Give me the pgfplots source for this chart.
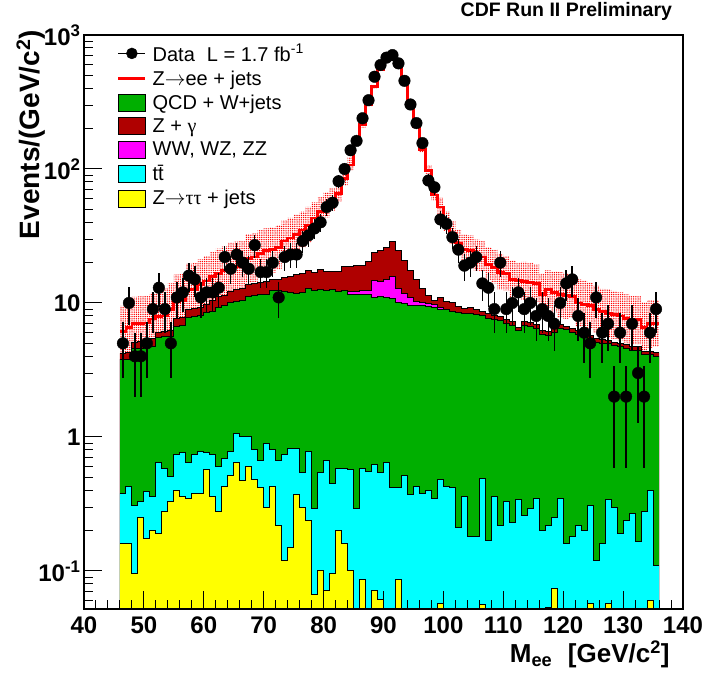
\documentclass[border=0pt]{standalone}
\usepackage{fontspec}
\setmainfont{Liberation Sans}
\newfontfamily\greek{Liberation Serif}
\usepackage{pgfplots}
\pgfplotsset{compat=1.18}
\usepackage{pgfplotstable}
\usetikzlibrary{patterns.meta}

\definecolor{qcdgreen}{RGB}{0,175,0}
\definecolor{zgdred}{RGB}{175,0,0}
\definecolor{dibmag}{RGB}{255,0,255}
\definecolor{ttcyan}{RGB}{0,255,255}
\definecolor{ztyel}{RGB}{255,255,0}

% stacked MC, cumulative tops per 1 GeV bin (left edge), last row closes the histogram
\pgfplotstableread{
x   yel   cya   grn  mag  dred tot  lo   hi
46  0.16  0.38  3.8  3.8  4.2  6.1  4.2  9.5
47  0.16  0.43  3.8  3.8  4.3  6.6  4.3  10.0
48  0.096 0.31  4.6  4.6  5.1  7.0  5.1  11.1
49  0.25  0.33  4.6  4.6  5.2  7.0  5.2  11.2
50  0.175 0.39  4.7  4.7  5.3  7.1  5.3  11.3
51  0.20  0.36  4.7  4.7  5.4  7.6  5.4  11.9
52  0.19  0.65  5.5  5.5  6.0  7.9  6.0  12.7
53  0.28  0.58  5.6  5.6  6.1  8.0  6.1  12.9
54  0.33  0.51  5.6  5.6  6.2  9.0  6.2  14.0
55  0.40  0.74  6.7  6.7  7.6  10.2 7.6  16.3
56  0.36  0.76  6.8  6.8  7.8  10.4 7.8  16.6
57  0.35  0.65  7.8  7.8  8.9  12.5 8.9  19.6
58  0.38  0.74  7.9  7.9  9.1  12.6 9.1  19.9
59  0.38  0.78  8.0  8.0  9.3  13.8 9.3  21.2
60  0.57  0.76  8.5  8.5  9.7  14.6 9.7  22.4
61  0.36  0.74  8.7  8.7  10.5 15.8 10.5 24.2
62  0.28  0.60  9.3  9.3  11.1 16.5 11.1 25.4
63  0.43  0.69  9.5  9.5  11.3 17.5 11.3 26.5
64  0.52  0.78  10.0 10.0 12.2 18.5 12.2 28.3
65  0.64  1.06  10.2 10.2 12.5 18.7 12.5 28.7
66  0.47  1.01  10.4 10.4 12.8 19.0 12.8 29.2
67  0.60  1.01  11.2 11.2 13.7 21.5 14.0 32.5
68  0.48  0.80  11.4 11.4 14.0 22.0 14.3 33.2
69  0.42  0.67  11.5 11.5 14.2 23.5 15.7 34.9
70  0.30  0.89  11.6 11.6 14.5 24.5 16.5 36.1
71  0.43  0.80  12.3 12.3 14.9 25.0 16.8 36.9
72  0.22  0.67  12.4 12.4 15.0 26.0 17.8 38.0
73  0.12  0.74  12.2 12.2 15.6 29.0 20.4 41.5
74  0.15  0.82  12.0 12.0 15.8 30.5 21.8 43.1
75  0.37  0.82  11.8 11.8 16.2 32.5 23.6 45.5
76  0.30  0.54  12.0 12.0 16.5 35   25.9 48.2
77  0.24  0.78  12.8 12.8 17.6 38   28.3 52.1
78  0.067 0.29  12.4 12.4 16.8 43   33.8 56.4
79  0.10  0.54  12.5 12.5 17.8 48   38.2 62.2
80  0.072 0.67  12.3 12.3 17.1 53   43.6 66.7
81  0.096 0.45  12.5 12.5 17.1 58   48.6 71.7
82  0.20  0.58  12.2 12.2 17.3 66   56.5 79.8
83  0.16  0.58  12.3 12.3 18.7 85   74.7 100
84  0.10  0.57  11.6 12.1 18.7 107  96.7 122
85  0.001 0.29  11.6 12.2 18.9 160  150  175
86  0.086 0.58  11.5 12.3 19.2 215  204  230
87  0.001 0.55  11.5 12.4 20.3 300  289  316
88  0.072 0.62  11.0 14.8 24.0 410  397  429
89  0.061 0.54  11.1 14.5 24.5 550  537  570
90  0.001 0.65  11.0 15.0 26.0 670  656  691
91  0.001 0.42  10.8 15.7 28.7 710  694  733
92  0.087 0.42  10.0 12.9 24.5 620  607  640
93  0.001 0.52  9.9  11.8 20.9 440  428  457
94  0.001 0.37  9.6  10.9 17.6 295  285  309
95  0.001 0.43  9.6  10.3 15.0 207  199  219
96  0.001 0.38  9.5  10.1 12.9 140  133  150
97  0.001 0.40  9.4  9.9  11.3 98   91.8 107
98  0.001 0.35  9.2  9.7  10.5 64   58.2 72.4
99  0.057 0.48  9.0  9.3  11.0 52   46.0 60.8
100 0.001 0.43  8.9  8.9  10.2 40   34.4 48.2
101 0.001 0.42  8.7  8.7  10.0 33   27.5 41.0
102 0.001 0.21  8.5  8.5  9.4  28   22.8 35.5
103 0.001 0.36  8.3  8.3  9.1  25   20.0 32.3
104 0.001 0.18  8.3  8.3  9.2  24.5 19.4 31.9
105 0.001 0.18  8.2  8.2  9.0  22.5 17.5 29.7
106 0.056 0.49  8.0  8.0  8.7  22   17.2 29.0
107 0.001 0.17  7.7  7.7  8.3  19.5 14.9 26.1
108 0.001 0.36  7.5  7.5  8.1  18.5 14.0 25.0
109 0.001 0.22  7.4  7.4  7.95 17   12.6 23.4
110 0.001 0.33  7.0  7.0  7.5  16.5 12.4 22.5
111 0.001 0.23  6.8  6.8  7.3  15   11.0 20.8
112 0.001 0.34  6.2  6.2  6.6  14.8 11.2 20.1
113 0.001 0.26  6.8  6.8  7.3  14.5 10.5 20.3
114 0.001 0.29  6.7  6.7  7.2  14.3 10.3 20.1
115 0.001 0.35  6.4  6.4  6.9  14   10.2 19.5
116 0.001 0.20  5.8  5.8  6.2  11.6 8.2  16.6
117 0.053 0.22  5.7  5.7  6.1  12.6 9.2  17.5
118 0.074 0.25  6.0  6.0  6.4  12.0 8.5  17.1
119 0.001 0.35  6.4  6.4  6.9  11.5 7.7  17.0
120 0.001 0.16  6.3  6.3  6.7  11.3 7.6  16.7
121 0.001 0.18  6.0  6.0  6.4  11.2 7.7  16.3
122 0.001 0.22  5.8  5.8  6.2  10.0 6.6  15.0
123 0.001 0.20  5.6  5.6  5.96 9.8  6.5  14.6
124 0.057 0.31  5.35 5.35 5.7  9.6  6.5  14.2
125 0.001 0.12  5.1  5.1  5.45 9.0  6.0  13.4
126 0.001 0.16  5.0  5.0  5.3  8.6  5.7  12.8
127 0.057 0.34  4.95 4.95 5.25 8.4  5.5  12.6
128 0.001 0.30  4.8  4.8  5.1  8.2  5.4  12.3
129 0.001 0.19  4.7  4.7  5.0  8.0  5.25 12.0
130 0.001 0.24  4.6  4.6  4.9  7.7  5.0  11.6
131 0.001 0.27  4.4  4.4  4.7  7.5  4.9  11.3
132 0.001 0.165 4.4  4.4  4.7  7.5  4.9  11.3
133 0.001 0.28  4.1  4.1  4.35 6.6  4.35 10.1
134 0.06  0.40  4.1  4.1  4.35 7.0  4.6  10.5
135 0.001 0.11  4.0  4.0  4.25 7.0  4.7  10.4
136 0.001 0.11  4.0  4.0  4.25 7.0  4.7  10.4
}\hist

% data: events per bin, Poisson error
\pgfplotstableread{
x     n    e
46.5  5    2.24
47.5  10   3.16
48.5  4    2.00
49.5  4    2.00
50.5  5    2.24
51.5  9    3.00
52.5  13   3.61
53.5  9    3.00
54.5  5    2.24
55.5  11   3.32
56.5  12   3.46
57.5  16   4.00
58.5  15   3.87
59.5  11   3.32
60.5  12   3.46
61.5  12   3.46
62.5  13   3.61
63.5  22   4.69
64.5  18   4.24
65.5  23   4.80
66.5  20   4.47
67.5  18   4.24
68.5  27   5.20
69.5  17   4.12
70.5  17   4.12
71.5  20   4.47
72.5  11   3.32
73.5  22   4.69
74.5  23   4.80
75.5  23   4.80
76.5  29   5.39
77.5  32   5.66
78.5  36   6.00
79.5  40   6.32
80.5  52   7.21
81.5  56   7.48
82.5  81   9.00
83.5  100  10.0
84.5  138  11.75
85.5  162  12.73
86.5  239  15.46
87.5  326  18.06
88.5  488  22.09
89.5  597  24.43
90.5  678  26.04
91.5  708  26.61
92.5  614  24.78
93.5  455  21.33
94.5  303  17.41
95.5  220  14.83
96.5  156  12.49
97.5  82   9.06
98.5  73   8.54
99.5  42   6.48
100.5 39   6.24
101.5 31   5.57
102.5 25   5.00
103.5 19   4.36
104.5 20   4.47
105.5 22   4.69
106.5 14   3.74
107.5 13   3.61
108.5 9    3.00
109.5 20   4.47
110.5 9    3.00
111.5 10   3.16
112.5 12   3.46
113.5 9    3.00
114.5 10   3.16
115.5 8    2.83
116.5 9    3.00
117.5 8    2.83
118.5 7    2.65
119.5 10   3.16
120.5 14   3.74
121.5 15   3.87
122.5 8    2.83
123.5 6    2.45
124.5 5    2.24
125.5 11   3.32
126.5 6    2.45
127.5 7    2.65
128.5 2    1.41
129.5 6    2.45
130.5 2    1.41
131.5 7    2.65
132.5 3    1.73
133.5 2    1.41
134.5 6    2.45
135.5 9    3.00
}\meas

\begin{document}
\begin{tikzpicture}
\useasboundingbox (-84pt,-64pt) rectangle (621pt,609pt);
\begin{axis}[
    scale only axis, width=599pt, height=574pt,
    at={(0pt,0pt)}, anchor=south west,
    xmin=40, xmax=140, ymode=log, ymin=0.052, ymax=1000,
    log origin y=infty,
    axis on top,
    tick pos=left, tick align=inside,
    major tick length=18pt, minor tick length=9pt,
    tick style={black, line width=1pt},
    axis line style={line width=1.2pt},
    xtick={40,50,...,140}, minor x tick num=4,
    ytick={0.1,1,10,100,1000},
    yticklabels={10\textsuperscript{-1},1,10,10\textsuperscript{2},10\textsuperscript{3}},
    minor ytick={0.06,0.07,0.08,0.09,0.2,0.3,0.4,0.5,0.6,0.7,0.8,0.9,2,3,4,5,6,7,8,9,20,30,40,50,60,70,80,90,200,300,400,500,600,700,800,900},
    /pgf/number format/assume math mode=true,
    ticklabel style={font=\bfseries\fontsize{24}{24}\selectfont},
    xticklabel style={yshift=-4pt},
    xlabel={M\textsubscript{ee}\hspace{0.6em}[GeV/c\textsuperscript{2}]},
    xlabel style={at={(axis description cs:0.978,-0.094)}, anchor=base east,
        inner sep=0pt, font=\bfseries\fontsize{26}{26}\selectfont},
    ylabel={Events/(GeV/c\textsuperscript{2})},
    ylabel style={at={(axis description cs:-0.075,1.009)}, anchor=base east,
        inner sep=0pt, font=\bfseries\fontsize{28}{28}\selectfont},
    title={CDF Run II Preliminary},
    title style={at={(axis description cs:0.982,1.0226)}, anchor=base east,
        inner sep=0pt, font=\bfseries\fontsize{19.5}{19.5}\selectfont},
    legend style={at={(axis description cs:0.055,0.988)}, anchor=north west,
        draw=none, fill=none, inner sep=0pt, row sep=4pt, column sep=4pt,
        font=\fontsize{20}{20}\selectfont},
    legend cell align=left,
]
% legend in the reference's order
\addlegendimage{legend image code/.code={
    \draw[black, line width=1.2pt] (0pt,0pt) -- (27pt,0pt);
    \fill[black] (13.5pt,0pt) circle (5.5pt);}}
\addlegendentry{Data\hspace{0.6em}L = 1.7 fb\textsuperscript{-1}}
\addlegendimage{legend image code/.code={
    \draw[red, line width=2.5pt] (0pt,0pt) -- (27pt,0pt);}}
\addlegendentry{Z$\rightarrow$ee + jets}
\addlegendimage{legend image code/.code={
    \draw[black, line width=0.8pt, fill=qcdgreen] (0pt,-8.5pt) rectangle (27pt,8.5pt);}}
\addlegendentry{QCD + W+jets}
\addlegendimage{legend image code/.code={
    \draw[black, line width=0.8pt, fill=zgdred] (0pt,-8.5pt) rectangle (27pt,8.5pt);}}
\addlegendentry{Z + {\greek γ}}
\addlegendimage{legend image code/.code={
    \draw[black, line width=0.8pt, fill=dibmag] (0pt,-8.5pt) rectangle (27pt,8.5pt);}}
\addlegendentry{WW, WZ, ZZ}
\addlegendimage{legend image code/.code={
    \draw[black, line width=0.8pt, fill=ttcyan] (0pt,-8.5pt) rectangle (27pt,8.5pt);}}
\addlegendentry{t\={t}}
\addlegendimage{legend image code/.code={
    \draw[black, line width=0.8pt, fill=ztyel] (0pt,-8.5pt) rectangle (27pt,8.5pt);}}
\addlegendentry{Z$\rightarrow${\greek ττ} + jets}

% uncertainty band on the total
\addplot[forget plot, const plot, draw=none, pattern={Dots[distance=2.2pt,radius=0.75pt]},
    pattern color=red] table[x=x, y=hi] {\hist} \closedcycle;
\addplot[forget plot, const plot, draw=none, fill=white] table[x=x, y=lo] {\hist} \closedcycle;

% stack, drawn from the top layer down
\addplot[forget plot, const plot, draw=none, fill=zgdred] table[x=x, y=dred] {\hist} \closedcycle;
\addplot[forget plot, const plot, draw=none, fill=dibmag] table[x=x, y=mag] {\hist} \closedcycle;
\addplot[forget plot, const plot, draw=none, fill=qcdgreen] table[x=x, y=grn] {\hist} \closedcycle;
\addplot[forget plot, const plot, draw=none, fill=ttcyan] table[x=x, y=cya] {\hist} \closedcycle;
\addplot[forget plot, const plot, draw=none, fill=ztyel] table[x=x, y=yel] {\hist} \closedcycle;

\addplot[forget plot, const plot, black, line width=1pt] table[x=x, y=dred] {\hist};
\addplot[forget plot, const plot, black, line width=1pt] table[x=x, y=mag] {\hist};
\addplot[forget plot, const plot, black, line width=1pt] table[x=x, y=grn] {\hist};
\addplot[forget plot, const plot, black, line width=1pt] table[x=x, y=cya] {\hist};
\addplot[forget plot, const plot, black, line width=1pt] table[x=x, y=yel] {\hist};

% total prediction
\addplot[forget plot, const plot, red, line width=2.8pt] table[x=x, y=tot] {\hist};

% data
\addplot[forget plot, only marks, mark=*, mark size=5.8pt, black,
    error bars/.cd, y dir=both, y explicit, error mark=none,
    error bar style={line width=1.4pt, black}]
    table[x=x, y=n, y error=e] {\meas};
\end{axis}
\end{tikzpicture}
\end{document}
